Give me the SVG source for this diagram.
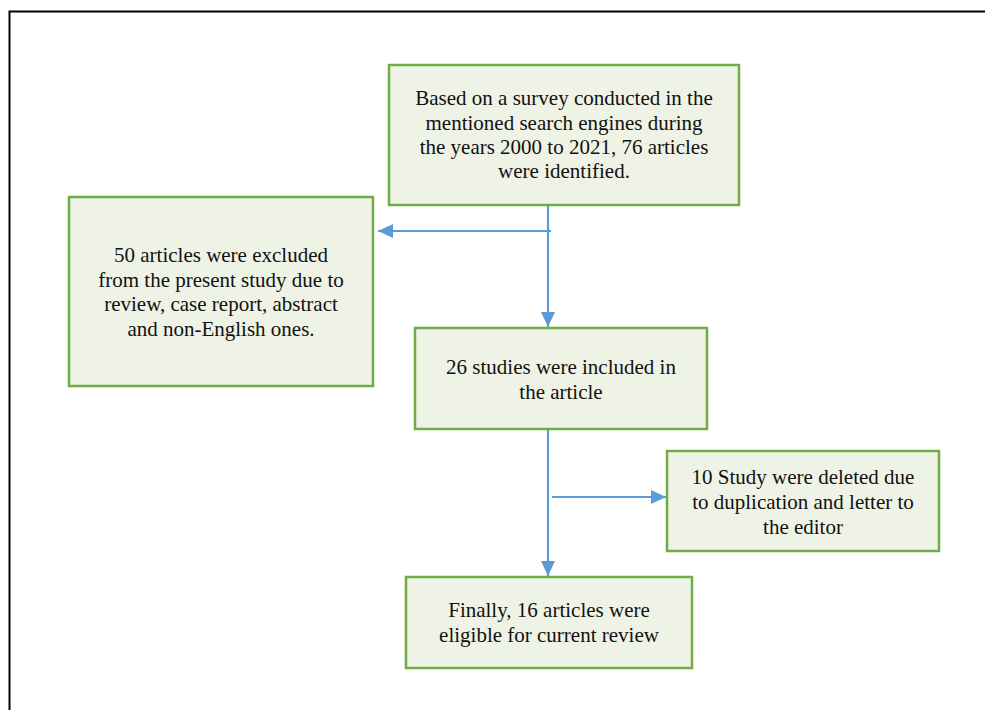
<svg xmlns="http://www.w3.org/2000/svg" width="985" height="710" viewBox="0 0 985 710">
<style>
.box{fill:#EFF3E5;stroke:#70AD47;stroke-width:2.5}
.t{font-family:"Liberation Serif","Times New Roman",serif;font-size:21px;fill:#111;text-anchor:middle}
.c{stroke:#5B9BD5;stroke-width:2.2;fill:none}
</style>
<defs>
<marker id="ah" markerWidth="15" markerHeight="14" refX="15" refY="7" orient="auto" markerUnits="userSpaceOnUse" viewBox="0 0 15 14">
<path d="M0,0 L15,7 L0,14 Z" fill="#5B9BD5"/>
</marker>
</defs>
<rect x="0" y="0" width="985" height="710" fill="#fff"/>
<path d="M9.5,710 V11.5 H985" fill="none" stroke="#000" stroke-width="2"/>
<g id="connectors">
<path class="c" d="M548,205 V327" marker-end="url(#ah)"/>
<path class="c" d="M551,231 H378" marker-end="url(#ah)"/>
<path class="c" d="M548,429 V576" marker-end="url(#ah)"/>
<path class="c" d="M552,497 H666" marker-end="url(#ah)"/>
</g>
<g id="n1">
<rect class="box" x="389" y="65" width="350" height="140"/>
<text class="t" x="564" y="105">Based on a survey conducted in the</text>
<text class="t" x="564" y="130">mentioned search engines during</text>
<text class="t" x="564" y="154">the years 2000 to 2021, 76 articles</text>
<text class="t" x="564" y="178">were identified.</text>
</g>
<g id="n2">
<rect class="box" x="69" y="197" width="304" height="189"/>
<text class="t" x="221" y="262">50 articles were excluded</text>
<text class="t" x="221" y="287">from the present study due to</text>
<text class="t" x="221" y="311">review, case report, abstract</text>
<text class="t" x="221" y="336">and non-English ones.</text>
</g>
<g id="n3">
<rect class="box" x="415" y="328" width="292" height="101"/>
<text class="t" x="561" y="374">26 studies were included in</text>
<text class="t" x="561" y="399">the article</text>
</g>
<g id="n4">
<rect class="box" x="667" y="451" width="272" height="100"/>
<text class="t" x="803" y="484">10 Study were deleted due</text>
<text class="t" x="803" y="509">to duplication and letter to</text>
<text class="t" x="803" y="534">the editor</text>
</g>
<g id="n5">
<rect class="box" x="406" y="577" width="286" height="91"/>
<text class="t" x="549" y="617">Finally, 16 articles were</text>
<text class="t" x="549" y="642">eligible for current review</text>
</g>
</svg>
